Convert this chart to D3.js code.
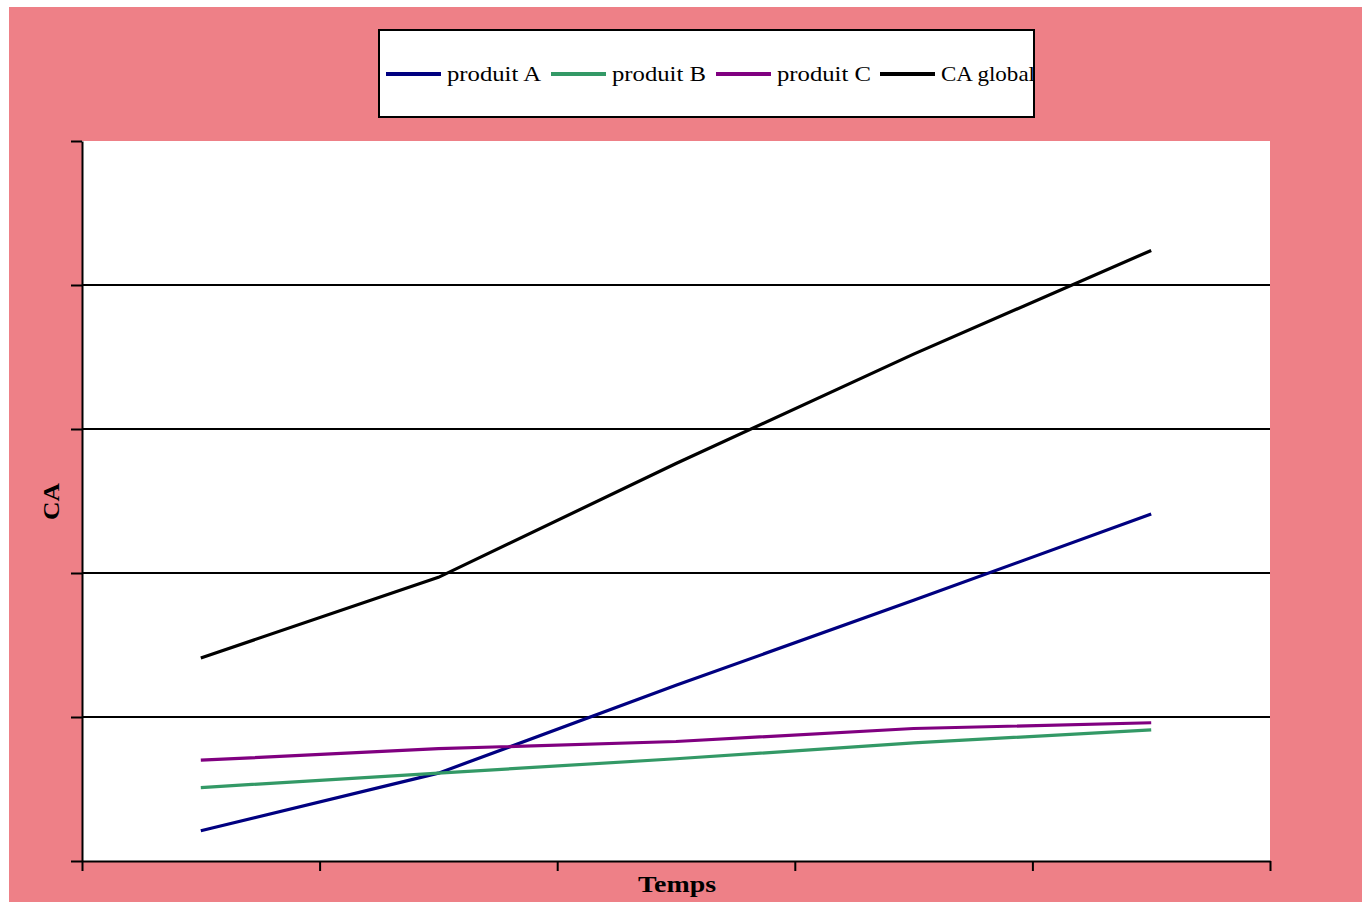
<!DOCTYPE html>
<html>
<head>
<meta charset="utf-8">
<script src="https://cdn.jsdelivr.net/npm/d3@7"></script>
<style>
  body { margin: 0; background: #fff; }
  svg { display: block; }
</style>
</head>
<body>
<svg width="1362" height="902"></svg>
<script>
// données (aucune étiquette visible sur les axes)
const periodes = ['P1', 'P2', 'P3', 'P4', 'P5']
const produitA = [0.21, 0.61, 1.22, 1.81, 2.41]
const produitB = [0.51, 0.61, 0.71, 0.82, 0.91]
const produitC = [0.70, 0.78, 0.83, 0.92, 0.96]
const caGlobal = [1.41, 1.97, 2.76, 3.52, 4.24]
const yTicks = [0, 1, 2, 3, 4, 5]

const series = [
  { name: 'produit A', values: produitA, color: '#000080' },
  { name: 'produit B', values: produitB, color: '#339966' },
  { name: 'produit C', values: produitC, color: '#800080' },
  { name: 'CA global', values: caGlobal, color: '#000000' }
]

const svg = d3.select('svg')
const serif = 'Liberation Serif, Times New Roman, serif'

// fond rose de la zone du graphique
svg.append('rect')
  .attr('x', 9).attr('y', 7)
  .attr('width', 1353).attr('height', 895)
  .attr('fill', '#ee8087')

// zone de tracé
const plotLeft = 82, plotRight = 1270, plotTop = 141, plotBottom = 861

svg.append('rect')
  .attr('x', plotLeft).attr('y', plotTop)
  .attr('width', plotRight - plotLeft).attr('height', plotBottom - plotTop)
  .attr('fill', '#fff')

// échelle x : 5 catégories, points au centre de chaque intervalle
const xScale = d3.scaleLinear()
  .domain([0, periodes.length])
  .range([plotLeft, plotRight])

const yScale = d3.scaleLinear()
  .domain([0, 5])
  .range([plotBottom, plotTop])

// quadrillage horizontal
svg.append('g')
  .selectAll('line')
  .data(yTicks.filter(d => d > 0 && d < 5))
  .enter()
  .append('line')
  .attr('x1', plotLeft).attr('x2', plotRight)
  .attr('y1', d => yScale(d)).attr('y2', d => yScale(d))
  .attr('stroke', '#000')
  .attr('stroke-width', 2)

// axes
const yAxis = d3.axisLeft(yScale)
  .tickValues(yTicks)
  .tickFormat('')
  .tickSize(11)
  .tickSizeOuter(0)

svg.append('g')
  .attr('transform', `translate(${plotLeft}, 0)`)
  .call(yAxis)
  .call(g => g.selectAll('path, line').attr('stroke', '#000').attr('stroke-width', 2))

const xAxis = d3.axisBottom(xScale)
  .tickValues(d3.range(periodes.length + 1))
  .tickFormat('')
  .tickSize(10)
  .tickSizeOuter(0)

svg.append('g')
  .attr('transform', `translate(0, ${plotBottom})`)
  .call(xAxis)
  .call(g => g.selectAll('path, line').attr('stroke', '#000').attr('stroke-width', 2))

// courbes
const line = d3.line()
  .x((d, i) => xScale(i + 0.5))
  .y(d => yScale(d))

svg.append('g')
  .selectAll('path')
  .data(series)
  .enter()
  .append('path')
  .attr('d', d => line(d.values))
  .attr('fill', 'none')
  .attr('stroke', d => d.color)
  .attr('stroke-width', 3.2)

// titres des axes (police élargie comme dans l'original)
svg.append('text')
  .attr('x', 638).attr('y', 892)
  .attr('font-family', serif)
  .attr('font-weight', 'bold')
  .attr('font-size', 24)
  .attr('textLength', 78)
  .attr('lengthAdjust', 'spacingAndGlyphs')
  .text('Temps')

svg.append('text')
  .attr('transform', 'translate(59, 520) rotate(-90)')
  .attr('font-family', serif)
  .attr('font-weight', 'bold')
  .attr('font-size', 24)
  .attr('textLength', 37)
  .attr('lengthAdjust', 'spacingAndGlyphs')
  .text('CA')

// légende
svg.append('clipPath')
  .attr('id', 'legend-clip')
  .append('rect')
  .attr('x', 379).attr('y', 30)
  .attr('width', 655).attr('height', 87)

svg.append('rect')
  .attr('x', 379).attr('y', 30)
  .attr('width', 655).attr('height', 87)
  .attr('fill', '#fff')

const legendX = [386, 551, 716, 880]

const legend = svg.append('g')
  .attr('clip-path', 'url(#legend-clip)')
  .selectAll('g')
  .data(series)
  .enter()
  .append('g')
  .attr('transform', (d, i) => `translate(${legendX[i]}, 74)`)

legend.append('line')
  .attr('x1', 0).attr('x2', 55)
  .attr('stroke', d => d.color)
  .attr('stroke-width', 4)

legend.append('text')
  .attr('x', 61).attr('y', 7)
  .attr('font-family', serif)
  .attr('font-size', 21)
  .attr('textLength', 94)
  .attr('lengthAdjust', 'spacingAndGlyphs')
  .text(d => d.name)

svg.append('rect')
  .attr('x', 379).attr('y', 30)
  .attr('width', 655).attr('height', 87)
  .attr('fill', 'none')
  .attr('stroke', '#000')
  .attr('stroke-width', 2)
</script>
</body>
</html>
